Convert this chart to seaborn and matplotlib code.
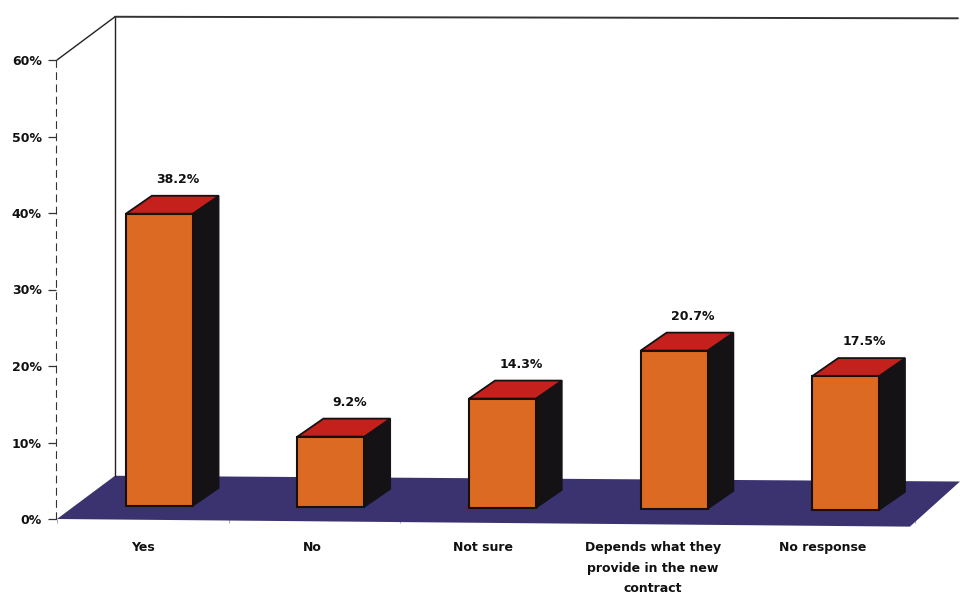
import matplotlib
matplotlib.use("Agg")
import matplotlib.pyplot as plt
from matplotlib.patches import Polygon
from matplotlib.lines import Line2D
import seaborn as sns

categories = ["Yes", "No", "Not sure", "Depends what they\nprovide in the new\ncontract", "No response"]
values = [38.2, 9.2, 14.3, 20.7, 17.5]
value_labels = ["38.2%", "9.2%", "14.3%", "20.7%", "17.5%"]
y_ticks = [0, 10, 20, 30, 40, 50, 60]

FRONT, TOP, SIDE, FLOOR = "#dd6a22", "#c4201c", "#141214", "#3a3370"
W, H = 960, 594
sns.set_theme(style="white")
plt.rcParams["font.family"] = ["DejaVu Sans"]

fig = plt.figure(figsize=(W / 100, H / 100), dpi=100, facecolor="white")
ax = fig.add_axes([57 / W, 1 - 519 / H, 858 / W, 459 / H])
sns.barplot(x=categories, y=values, color=FRONT, saturation=1, width=0.39,
            edgecolor="#1a0e08", linewidth=1.5, ax=ax, zorder=5)
ax.set_xlim(-0.5, 4.5)
ax.set_ylim(0, 60)

ux = 858 / 5      # pixels per category
uy = 459 / 60     # pixels per percent
dx, dy = 26 / ux, 18 / uy           # bar depth
wx, wy = 58 / ux, 44 / uy           # chart depth
shift = 16.5 / ux                   # bars stand back from the front edge

# floor and walls
ax.add_patch(Polygon([(-0.5, 0), (4.47, -1.0), (-0.5 + 903 / ux, 4.9), (-0.5 + wx, wy - 0.1)],
                     closed=True, fc=FLOOR, ec="none", clip_on=False, zorder=1))
common = dict(color="#222222", lw=1.0, clip_on=False, zorder=2)
ax.add_line(Line2D([-0.5 + wx, -0.5 + wx], [wy - 0.1, 60 + wy - 0.1], **common))
ax.add_line(Line2D([-0.5, -0.5 + wx], [60, 60 + wy - 0.1], **common))
ax.add_line(Line2D([-0.5 + wx, 4.75], [60 + wy - 0.1, 60 + wy - 0.3], color="#333333", lw=1.4,
                   clip_on=False, zorder=2))

# bars: seaborn front faces, with depth faces drawn from them
bars = [p for p in ax.patches if p.get_zorder() == 5]
for i, (patch, v, lab) in enumerate(zip(bars, values, value_labels)):
    base = 1.7 - 0.13 * i
    patch.set_y(base)
    patch.set_x(patch.get_x() + shift)
    x0, x1 = patch.get_x(), patch.get_x() + patch.get_width()
    top = base + v
    ax.add_patch(Polygon([(x1, base), (x1 + dx, base + dy), (x1 + dx, top + dy), (x1, top)],
                         closed=True, fc=SIDE, ec=SIDE, lw=1, zorder=4, clip_on=False))
    ax.add_patch(Polygon([(x0, top), (x0 + dx, top + dy), (x1 + dx, top + dy), (x1, top)],
                         closed=True, fc=TOP, ec=SIDE, lw=1.3, zorder=4, clip_on=False))
    ax.text((x0 + x1) / 2 + dx * 0.72, top + dy + 1.3, lab, ha="center", va="bottom",
            fontsize=9, fontweight="bold", color="#111111", zorder=6)

# axes
sns.despine(ax=ax, left=False, bottom=True, right=True, top=True)
ax.spines["left"].set_linestyle((0, (6, 5)))
ax.spines["left"].set_linewidth(0.8)
ax.spines["left"].set_color("#333333")
ax.spines["left"].set_position(("outward", 1))
ax.set_yticks(y_ticks)
ax.set_yticklabels([f"{t}%" for t in y_ticks], fontsize=9, fontweight="bold", color="#111111")
ax.tick_params(axis="y", left=True, length=6, width=0.9, color="#333333", pad=4)
ax.set_xticks([i * 170 / ux for i in range(len(categories))])
ax.set_xticklabels(categories, fontsize=9, fontweight="bold", color="#111111", linespacing=1.75,
                   va="top")
ax.tick_params(axis="x", bottom=False, pad=10)
ax.set_xticks([i + 0.5 for i in range(-1, 5)], minor=True)
ax.tick_params(axis="x", which="minor", bottom=True, length=3, width=0.6, color="#999999")
ax.set_xlabel("")
ax.set_ylabel("")
ax.grid(False)

fig.savefig("out.png", dpi=100, facecolor="white")
